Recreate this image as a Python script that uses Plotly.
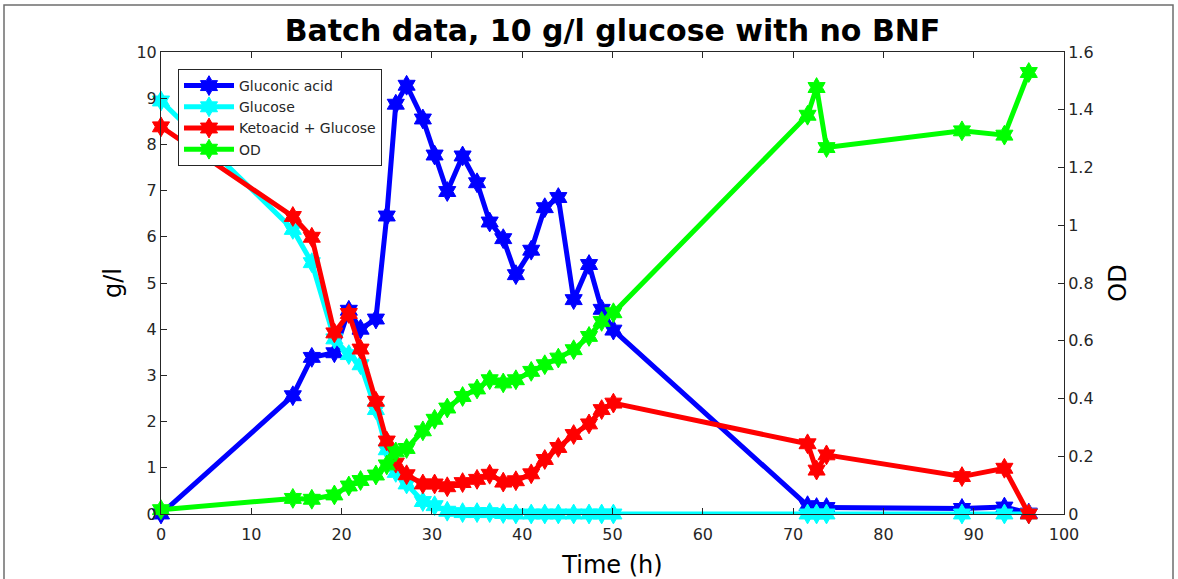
import plotly.graph_objects as go

# ---------------- data ----------------
time_h = [0, 14.6, 16.7, 19.2, 20.8, 22.1, 23.8, 25.0, 26.0, 27.2, 29.0, 30.3, 31.7,
          33.4, 35.0, 36.4, 37.9, 39.3, 41.0, 42.5, 44.0, 45.7, 47.4, 48.8, 50.1,
          71.6, 72.6, 73.7, 88.7, 93.4, 96.1]

gluconic_acid = [0.0, 2.56, 3.39, 3.49, 4.41, 4.00, 4.22, 6.45, 8.87, 9.28, 8.55, 7.77, 6.98,
                 7.75, 7.17, 6.32, 5.96, 5.18, 5.71, 6.63, 6.85, 4.64, 5.40, 4.43, 3.98,
                 0.18, 0.14, 0.14, 0.12, 0.15, 0.02]

glucose = [8.94, 6.16, 5.44, 3.79, 3.45, 3.23, 2.26, 1.39, 0.90, 0.65, 0.27, 0.18, 0.06,
           0.03, 0.03, 0.03, 0.01, 0.0, 0.0, 0.0, 0.0, 0.0, 0.0, 0.0, 0.0,
           0.0, 0.0, 0.0, 0.0, 0.0, 0.0]

keto_glucose = [8.38, 6.44, 5.99, 3.92, 4.34, 3.57, 2.44, 1.58, 1.10, 0.85, 0.65, 0.65, 0.59,
                0.68, 0.75, 0.86, 0.69, 0.72, 0.87, 1.18, 1.44, 1.72, 1.95, 2.26, 2.40,
                1.52, 0.95, 1.28, 0.81, 0.99, 0.0]

od = [0.015, 0.054, 0.051, 0.066, 0.097, 0.116, 0.135, 0.170, 0.215, 0.227, 0.288, 0.328, 0.367,
      0.407, 0.433, 0.465, 0.454, 0.465, 0.494, 0.517, 0.540, 0.569, 0.615, 0.667, 0.697,
      1.381, 1.477, 1.269, 1.327, 1.312, 1.529]

x_ticks = [0, 10, 20, 30, 40, 50, 60, 70, 80, 90, 100]
y_ticks = [0, 1, 2, 3, 4, 5, 6, 7, 8, 9, 10]
y2_ticks = [0, 0.2, 0.4, 0.6, 0.8, 1.0, 1.2, 1.4, 1.6]

# ---------------- figure ----------------
FONT = "DejaVu Sans"
AX = "#262626"
W, H = 1178, 579
L, R, T, B = 161, 1064, 52, 514


def series(y, name, color, axis="y"):
    return go.Scatter(
        x=time_h, y=y, name=name, yaxis=axis, mode="lines+markers",
        line=dict(color=color, width=5),
        marker=dict(symbol="hexagram", size=15, color=color,
                    line=dict(color=color, width=1)),
        cliponaxis=False,
    )


fig = go.Figure()
fig.add_trace(series(gluconic_acid, "Gluconic acid", "#0000ff"))
fig.add_trace(series(glucose, "Glucose", "#00ffff"))
fig.add_trace(series(keto_glucose, "Ketoacid + Glucose", "#ff0000"))
fig.add_trace(series(od, "OD", "#00ff00", axis="y2"))

axis_common = dict(
    showgrid=False, zeroline=False, showline=True, linecolor=AX, linewidth=1,
    ticks="inside", ticklen=6, tickcolor=AX, tickwidth=1, automargin=False,
    tickfont=dict(family=FONT, size=16, color=AX),
)

fig.update_layout(
    width=W, height=H,
    paper_bgcolor="white", plot_bgcolor="white",
    margin=dict(l=L, r=W - R, t=T, b=H - B, pad=0),
    title=dict(text="<b>Batch data, 10 g/l glucose with no BNF</b>",
               font=dict(family=FONT, size=30, color="black"),
               x=(L + R) / 2 / W, xanchor="center", y=1 - 30 / H, yanchor="middle"),
    xaxis=dict(range=[0, 100], tickvals=x_ticks, mirror="ticks", ticklabelstandoff=6,
               title=dict(text="Time (h)", font=dict(family=FONT, size=24, color="black"),
                          standoff=12),
               **axis_common),
    yaxis=dict(range=[0, 10], tickvals=y_ticks,
               title=dict(text="g/l", font=dict(family=FONT, size=24, color="black"),
                          standoff=8),
               **axis_common),
    yaxis2=dict(range=[0, 1.6], tickvals=y2_ticks, overlaying="y", side="right",
                ticktext=[("%g" % v) for v in y2_ticks],
                title=dict(text="OD", font=dict(family=FONT, size=24, color="black"),
                           standoff=16),
                **axis_common),
    legend=dict(x=(178 - L) / (R - L), y=(B - 69) / (B - T), xanchor="left", yanchor="top",
                bgcolor="white", bordercolor=AX, borderwidth=1,
                font=dict(family=FONT, size=14, color=AX),
                itemwidth=50, tracegroupgap=0),
    showlegend=True,
)

# outer figure frame
fig.add_shape(type="rect", xref="paper", yref="paper",
              x0=(4 - L) / (R - L), x1=(1173 - L) / (R - L),
              y0=(B - 640) / (B - T), y1=(B - 5) / (B - T),
              line=dict(color="#6e6e6e", width=1.5), layer="below")

fig.write_html("out.html")
